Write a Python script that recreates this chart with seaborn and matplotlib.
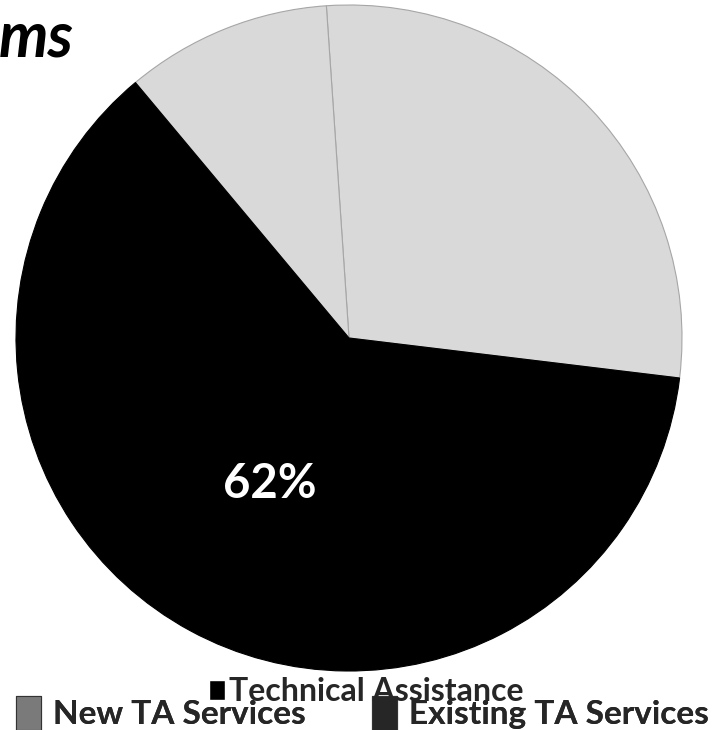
import matplotlib
matplotlib.use("Agg")
import matplotlib.pyplot as plt
import matplotlib.patches as mpatches
import seaborn as sns

# data
segments = ["New TA Services", "Existing TA Services", "Technical Assistance"]
shares = [28, 10, 62]
slice_colors = ["#d9d9d9", "#d9d9d9", "#000000"]
legend_labels = ["New TA Services", "Existing TA Services"]
legend_colors = ["#7a7a7a", "#262626"]
group_label = "Technical Assistance"

sns.set_theme(style="white")
plt.rcParams['font.family'] = ['Lato', 'DejaVu Sans']

fig = plt.figure(figsize=(7.18, 7.30), dpi=100)
# pie centre ~ (349, 338) px, radius ~ 333 px
ax = fig.add_axes([16 / 718, 59 / 730, 666 / 718, 666 / 730])

wedges, texts, autotexts = ax.pie(
    shares, colors=slice_colors, startangle=-6.9, counterclock=True,
    autopct=lambda p: f"{p:.0f}%" if p > 50 else "", pctdistance=0.5,
    wedgeprops=dict(edgecolor="#a6a6a6", linewidth=0.8),
    textprops=dict(color="white", fontsize=34, fontweight="bold"))
wedges[2].set_edgecolor("#000000")
ax.set_xlim(-1, 1)
ax.set_ylim(-1, 1)
ax.set_aspect("auto")
ax.axis("off")

# cropped title fragment in the top-left corner
fig.text(-0.002, 0.922, "ms", fontsize=45, fontweight="bold", fontstyle="italic",
         ha="left", va="baseline", color="black")

# legend of the two grey services
handles = [mpatches.Rectangle((0, 0), 1, 1, facecolor=c, edgecolor="#333333", linewidth=0.8)
           for c in legend_colors]
leg = fig.legend(handles, legend_labels, loc="lower center", bbox_to_anchor=(0.505, -0.041),
                 ncol=2, frameon=False, handlelength=0.75, handleheight=1.2,
                 handletextpad=0.35, columnspacing=2.0,
                 prop=dict(family="Lato", weight="bold", size=24))

# overlapping series legend
leg2 = fig.legend([mpatches.Rectangle((0, 0), 1, 1, facecolor="black")], [group_label],
                  loc="lower center", bbox_to_anchor=(0.51, -0.007), frameon=False,
                  handlelength=0.5, handleheight=0.6, handletextpad=0.15,
                  prop=dict(family="Lato", weight="bold", size=23))
fig.add_artist(leg)

fig.savefig("out.png", dpi=100)
